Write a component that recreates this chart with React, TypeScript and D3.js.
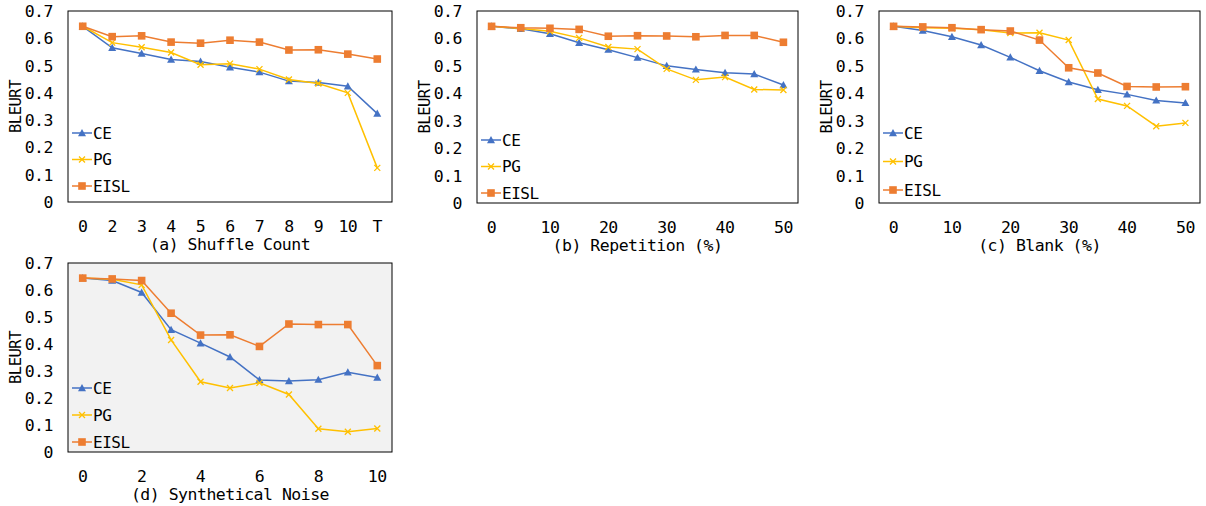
import React from "react";
import * as d3 from "d3";

const catsA = ["0", "2", "3", "4", "5", "6", "7", "8", "9", "10", "T"];
const catsB = ["0", "5", "10", "15", "20", "25", "30", "35", "40", "45", "50"];
const catsC = ["0", "5", "10", "15", "20", "25", "30", "35", "40", "45", "50"];
const catsD = ["0", "1", "2", "3", "4", "5", "6", "7", "8", "9", "10"];

const ceA = [0.644, 0.565, 0.544, 0.522, 0.515, 0.494, 0.476, 0.443, 0.438, 0.424, 0.324];
const pgA = [0.644, 0.584, 0.567, 0.548, 0.503, 0.507, 0.487, 0.449, 0.434, 0.4, 0.125];
const eislA = [0.644, 0.606, 0.609, 0.586, 0.582, 0.593, 0.586, 0.557, 0.558, 0.542, 0.524];

const ceB = [0.644, 0.635, 0.617, 0.584, 0.559, 0.53, 0.5, 0.487, 0.475, 0.47, 0.43];
const pgB = [0.644, 0.636, 0.626, 0.602, 0.569, 0.561, 0.489, 0.449, 0.459, 0.414, 0.412];
const eislB = [0.644, 0.639, 0.637, 0.633, 0.608, 0.61, 0.609, 0.606, 0.611, 0.611, 0.586];

const ceC = [0.644, 0.629, 0.606, 0.576, 0.531, 0.482, 0.441, 0.413, 0.396, 0.374, 0.365];
const pgC = [0.644, 0.639, 0.637, 0.632, 0.62, 0.621, 0.594, 0.379, 0.354, 0.28, 0.292];
const eislC = [0.644, 0.642, 0.639, 0.632, 0.627, 0.594, 0.493, 0.474, 0.425, 0.423, 0.424];

const ceD = [0.644, 0.635, 0.591, 0.453, 0.403, 0.352, 0.267, 0.263, 0.268, 0.295, 0.276];
const pgD = [0.644, 0.64, 0.619, 0.415, 0.26, 0.237, 0.256, 0.213, 0.086, 0.075, 0.087];
const eislD = [0.644, 0.641, 0.635, 0.514, 0.433, 0.434, 0.391, 0.474, 0.472, 0.472, 0.32];

const yTicks = [0, 0.1, 0.2, 0.3, 0.4, 0.5, 0.6, 0.7];
const seriesNames = ["CE", "PG", "EISL"];
const colors = ["#4472C4", "#FFC000", "#ED7D31"];

const FONT = "'DejaVu Sans Mono', monospace";
const FS = 16.5;
const LS = -0.5;

type Panel = {
  cats: string[];
  showEvery: number;
  data: number[][];
  title: string;
  x0: number; x1: number; y0: number; y1: number;
  bg: string;
  legTop: number; legStep: number;
};

const panels: Panel[] = [
  { cats: catsA, showEvery: 1, data: [ceA, pgA, eislA], title: "(a) Shuffle Count", x0: 68, x1: 392, y0: 11, y1: 202, bg: "#ffffff", legTop: 133, legStep: 26.5 },
  { cats: catsB, showEvery: 2, data: [ceB, pgB, eislB], title: "(b) Repetition (%)", x0: 477, x1: 798, y0: 11, y1: 203, bg: "#ffffff", legTop: 140, legStep: 26.5 },
  { cats: catsC, showEvery: 2, data: [ceC, pgC, eislC], title: "(c) Blank (%)", x0: 879, x1: 1200, y0: 11, y1: 203, bg: "#ffffff", legTop: 133, legStep: 28.5 },
  { cats: catsD, showEvery: 2, data: [ceD, pgD, eislD], title: "(d) Synthetical Noise", x0: 68, x1: 392, y0: 263, y1: 452, bg: "#f2f2f2", legTop: 388, legStep: 27 },
];

function Marker({ kind, x, y, color }: { kind: number; x: number; y: number; color: string }) {
  if (kind === 0) {
    const s = 4;
    return <path d={`M${x},${y - s}L${x + s},${y + s * 0.8}L${x - s},${y + s * 0.8}Z`} fill={color} />;
  }
  if (kind === 1) {
    const s = 3;
    return (
      <path d={`M${x - s},${y - s}L${x + s},${y + s}M${x - s},${y + s}L${x + s},${y - s}`} stroke={color} strokeWidth={1.3} fill="none" />
    );
  }
  const s = 3.8;
  return <rect x={x - s} y={y - s} width={2 * s} height={2 * s} fill={color} />;
}

function PanelView({ p }: { p: Panel }) {
  const x = d3.scaleBand<string>().domain(p.cats).range([p.x0, p.x1]);
  const y = d3.scaleLinear().domain([0, 0.7]).range([p.y1, p.y0]);
  const cx = (c: string) => (x(c) as number) + x.bandwidth() / 2;
  const line = d3
    .line<number>()
    .x((_, i) => cx(p.cats[i]))
    .y((v) => y(v));
  return (
    <g>
      <rect x={p.x0} y={p.y0} width={p.x1 - p.x0} height={p.y1 - p.y0} fill={p.bg} stroke="#000" strokeWidth={1} />
      {yTicks.map((t) => (
        <text key={t} x={p.x0 - 15} y={y(t)} dy="0.36em" textAnchor="end" fontFamily={FONT} fontSize={FS} letterSpacing={LS} fill="#000">
          {t === 0 ? "0" : t.toFixed(1)}
        </text>
      ))}
      {p.cats.map((c, i) =>
        i % p.showEvery === 0 ? (
          <text key={c} x={cx(c)} y={p.y1 + 24} dy="0.36em" textAnchor="middle" fontFamily={FONT} fontSize={FS} letterSpacing={LS} fill="#000">
            {c}
          </text>
        ) : null
      )}
      <text x={(p.x0 + p.x1) / 2} y={p.y1 + 42} dy="0.36em" textAnchor="middle" fontFamily={FONT} fontSize={FS} letterSpacing={LS} fill="#000">
        {p.title}
      </text>
      <text
        transform={`translate(${p.x0 - 53},${(p.y0 + p.y1) / 2}) rotate(-90)`}
        textAnchor="middle"
        dy="0.36em"
        fontFamily={FONT}
        fontSize={15.5}
        letterSpacing={LS}
        fill="#000"
      >
        BLEURT
      </text>
      {p.data.map((vals, si) => (
        <g key={si}>
          <path d={line(vals) || ""} fill="none" stroke={colors[si]} strokeWidth={1.5} />
          {vals.map((v, i) => (
            <Marker key={i} kind={si} x={cx(p.cats[i])} y={y(v)} color={colors[si]} />
          ))}
        </g>
      ))}
      {seriesNames.map((n, si) => {
        const ly = p.legTop + si * p.legStep;
        const lx = p.x0 + 4;
        return (
          <g key={n}>
            <line x1={lx} x2={lx + 20} y1={ly} y2={ly} stroke={colors[si]} strokeWidth={1.5} />
            <Marker kind={si} x={lx + 10} y={ly} color={colors[si]} />
            <text x={lx + 21} y={ly} dy="0.36em" fontFamily={FONT} fontSize={16} letterSpacing={LS} fill="#000">
              {n}
            </text>
          </g>
        );
      })}
    </g>
  );
}

export default function App() {
  return (
    <svg width={1206} height={506} style={{ position: "absolute", left: 0, top: 0, background: "#fff" }}>
      <rect width={1206} height={506} fill="#fff" />
      {panels.map((p, i) => (
        <PanelView key={i} p={p} />
      ))}
    </svg>
  );
}
